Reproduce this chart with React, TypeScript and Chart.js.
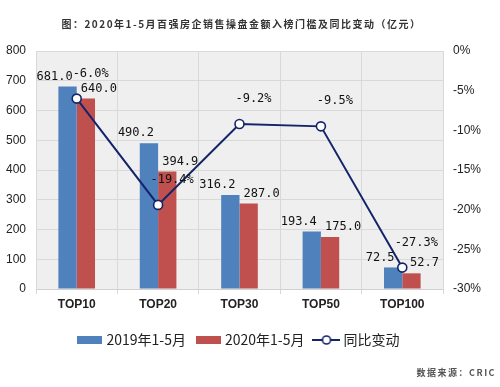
import React, { useEffect, useRef } from "react";
import { Chart, registerables } from "chart.js";

Chart.register(...registerables);

const categories = ["TOP10", "TOP20", "TOP30", "TOP50", "TOP100"];
const sales2019 = [681.0, 490.2, 316.2, 193.4, 72.5];
const sales2020 = [640.0, 394.9, 287.0, 175.0, 52.7];
const yoyChange = [-6.0, -19.4, -9.2, -9.5, -27.3];
const seriesNames = ["2019年1-5月", "2020年1-5月", "同比变动"];
const titleText = "图：2020年1-5月百强房企销售操盘金额入榜门槛及同比变动（亿元）";
const sourceText = "数据来源：CRIC";

const BLUE = "#4f81bd";
const RED = "#c0504d";
const NAVY = "#14246a";

function rectIcon(color: string) {
  const c = document.createElement("canvas");
  c.width = 25;
  c.height = 8;
  const ctx = c.getContext("2d")!;
  ctx.fillStyle = color;
  ctx.fillRect(0, 0, 25, 8);
  return c;
}

function lineIcon() {
  const c = document.createElement("canvas");
  c.width = 28;
  c.height = 12;
  const ctx = c.getContext("2d")!;
  ctx.strokeStyle = NAVY;
  ctx.lineWidth = 2;
  ctx.beginPath();
  ctx.moveTo(0, 6);
  ctx.lineTo(28, 6);
  ctx.stroke();
  ctx.beginPath();
  ctx.arc(14, 6, 4, 0, Math.PI * 2);
  ctx.fillStyle = "#ffffff";
  ctx.fill();
  ctx.lineWidth = 1.6;
  ctx.stroke();
  return c;
}

const bgPlugin = {
  id: "plotBg",
  beforeDraw(chart: any) {
    const { ctx, chartArea } = chart;
    ctx.save();
    ctx.fillStyle = "#ffffff";
    ctx.fillRect(0, 0, chart.width, chart.height);
    ctx.fillStyle = "#efefef";
    ctx.fillRect(chartArea.left, chartArea.top, chartArea.right - chartArea.left, chartArea.bottom - chartArea.top);
    ctx.restore();
  },
};

const textPlugin = {
  id: "texts",
  afterDraw(chart: any) {
    const { ctx, chartArea } = chart;
    ctx.save();
    (ctx as any).letterSpacing = "1.5px";
    ctx.fillStyle = "#333333";
    ctx.font = "bold 10px 'Noto Sans CJK SC'";
    ctx.textAlign = "center";
    ctx.textBaseline = "middle";
    ctx.fillText(titleText, (chartArea.left + chartArea.right) / 2 + 2, 24);
    ctx.fillStyle = "#555555";
    ctx.font = "bold 9px 'Noto Sans CJK SC'";
    ctx.textAlign = "right";
    ctx.fillText(sourceText, 496, 373);
    ctx.restore();
  },
};

const labelPlugin = {
  id: "valueLabels",
  afterDatasetsDraw(chart: any) {
    const { ctx } = chart;
    ctx.save();
    ctx.fillStyle = "#111111";
    ctx.font = "12px 'DejaVu Sans Mono'";
    ctx.textAlign = "center";
    ctx.textBaseline = "middle";
    chart.data.datasets.forEach((ds: any, di: number) => {
      const meta = chart.getDatasetMeta(di);
      meta.data.forEach((el: any, i: number) => {
        const v = ds.data[i];
        if (ds.type === "line") {
          ctx.fillText(v.toFixed(1) + "%", el.x + 14, el.y - 25);
        } else {
          const dx = di === 0 ? -13 : 13;
          ctx.fillText(v.toFixed(1), el.x + dx, el.y - 10);
        }
      });
    });
    ctx.restore();
  },
};

export default function App() {
  const ref = useRef<HTMLCanvasElement | null>(null);

  useEffect(() => {
    if (!ref.current) return;
    const icons = [rectIcon(BLUE), rectIcon(RED), lineIcon()];
    const tickFont = { family: "'Liberation Sans', Arial", size: 12 };
    const chart = new Chart(ref.current, {
      type: "bar",
      data: {
        labels: categories,
        datasets: [
          {
            type: "bar",
            label: seriesNames[0],
            data: sales2019,
            backgroundColor: BLUE,
            yAxisID: "y",
            categoryPercentage: 0.45,
            barPercentage: 1,
            order: 1,
          },
          {
            type: "bar",
            label: seriesNames[1],
            data: sales2020,
            backgroundColor: RED,
            yAxisID: "y",
            categoryPercentage: 0.45,
            barPercentage: 1,
            order: 1,
          },
          {
            type: "line",
            label: seriesNames[2],
            data: yoyChange,
            borderColor: NAVY,
            borderWidth: 2,
            pointRadius: 4.5,
            pointBorderWidth: 1.6,
            pointBackgroundColor: "#ffffff",
            pointBorderColor: NAVY,
            yAxisID: "y1",
            order: 0,
          } as any,
        ],
      },
      options: {
        animation: false,
        responsive: false,
        devicePixelRatio: 1,
        layout: { padding: { top: 51, left: 0, right: 0, bottom: 30 } },
        plugins: {
          title: { display: false },
          tooltip: { enabled: false },
          legend: {
            position: "bottom",
            fullSize: false,
            labels: {
              usePointStyle: true,
              pointStyleWidth: 20,
              padding: 12,
              color: "#222222",
              font: { family: "'Noto Sans CJK SC'", size: 14 },
              sort: (a: any, b: any) => a.datasetIndex - b.datasetIndex,
              generateLabels: (c: any) => {
                const items = (Chart.defaults.plugins.legend.labels as any).generateLabels(c);
                return items.map((it: any) => ({ ...it, pointStyle: icons[it.datasetIndex] }));
              },
            },
          },
        },
        scales: {
          x: {
            grid: { color: "#d9d9d9", tickLength: 5, offset: true },
            border: { color: "#d0d0d0" },
            ticks: {
              color: "#222222",
              padding: 3,
              font: { ...tickFont, weight: "bold" },
            },
            afterFit: (s: any) => {
              s.height = 32;
            },
          },
          y: {
            position: "left",
            min: 0,
            max: 800,
            ticks: { stepSize: 100, color: "#222222", padding: 10, font: tickFont },
            grid: { color: "#d9d9d9", drawTicks: false },
            border: { color: "#d9d9d9" },
            afterFit: (s: any) => {
              s.width = 36;
            },
          },
          y1: {
            position: "right",
            min: -30,
            max: 0,
            ticks: {
              stepSize: 5,
              color: "#222222",
              padding: 10,
              font: tickFont,
              callback: (v: any) => v + "%",
            },
            grid: { drawOnChartArea: false, drawTicks: false },
            border: { color: "#d9d9d9" },
            afterFit: (s: any) => {
              s.width = 57;
            },
          },
        },
      },
      plugins: [bgPlugin, labelPlugin, textPlugin],
    } as any);
    return () => chart.destroy();
  }, []);

  return (
    <div style={{ position: "fixed", left: 0, top: 0, width: 500, height: 387, background: "#fff" }}>
      <canvas ref={ref} width={500} height={387} style={{ width: 500, height: 387, display: "block" }} />
    </div>
  );
}
